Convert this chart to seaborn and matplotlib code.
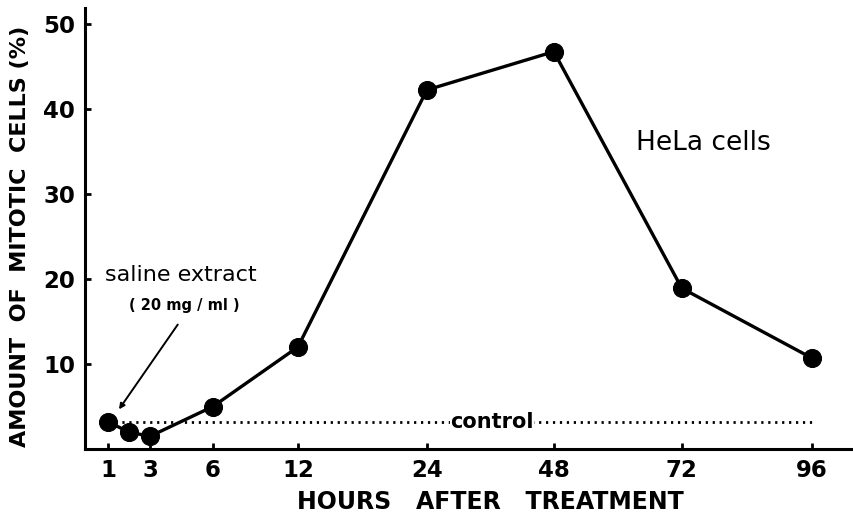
import numpy as np
import seaborn as sns
import matplotlib.pyplot as plt

# data
hours = [1, 2, 3, 6, 12, 24, 48, 72, 96]
mitotic = [3.2, 2.0, 1.5, 5.0, 12.0, 42.2, 46.7, 18.9, 10.7]
control_hours = [1, 96]
control_level = [3.2, 3.2]
tick_hours = [1, 3, 6, 12, 24, 48, 72, 96]
y_ticks = [10, 20, 30, 40, 50]

# the hour axis of the original is hand drawn, not linear
tick_pos = [0, 42, 105, 190, 319, 446, 574, 704]
slope_lo = 21.0
slope_hi = 130.0 / 24


def fwd(h):
    h = np.asarray(h, dtype=float)
    p = np.interp(h, tick_hours, tick_pos)
    p = np.where(h < tick_hours[0], tick_pos[0] + (h - tick_hours[0]) * slope_lo, p)
    p = np.where(h > tick_hours[-1], tick_pos[-1] + (h - tick_hours[-1]) * slope_hi, p)
    return p


def inv(p):
    p = np.asarray(p, dtype=float)
    h = np.interp(p, tick_pos, tick_hours)
    h = np.where(p < tick_pos[0], tick_hours[0] + (p - tick_pos[0]) / slope_lo, h)
    h = np.where(p > tick_pos[-1], tick_hours[-1] + (p - tick_pos[-1]) / slope_hi, h)
    return h


sns.set_style("ticks")
plt.rcParams['font.family'] = ['DejaVu Sans']
plt.rcParams['text.color'] = 'black'
plt.rcParams['axes.labelcolor'] = 'black'
plt.rcParams['xtick.color'] = 'black'
plt.rcParams['ytick.color'] = 'black'

fig = plt.figure(figsize=(8.54, 5.15), dpi=100)
ax = fig.add_axes([0.0995, 0.128, 0.9005, 0.856])
ax.set_xscale('function', functions=(fwd, inv))

sns.lineplot(x=control_hours, y=control_level, color='black', linewidth=2.0,
             linestyle=(0, (0.8, 1.7)), ax=ax)
sns.lineplot(x=hours, y=mitotic, color='black', linewidth=2.4, marker='o',
             markersize=13, markeredgecolor='black', ax=ax)

ax.set_xlim(-0.095, 103.8)
ax.set_ylim(0, 51.8)
ax.set_xticks(tick_hours)
ax.set_xticklabels([str(t) for t in tick_hours])
ax.set_yticks(y_ticks)
ax.minorticks_off()
for lab in ax.get_xticklabels() + ax.get_yticklabels():
    lab.set_fontsize(16.5)
    lab.set_fontweight('bold')
ax.tick_params(direction='in', length=4, width=2, color='black', pad=7)

for s in ['top', 'right']:
    ax.spines[s].set_visible(False)
for s in ['left', 'bottom']:
    ax.spines[s].set_linewidth(2.2)
    ax.spines[s].set_color('black')

ax.set_ylabel('AMOUNT  OF  MITOTIC  CELLS (%)', fontsize=16, fontweight='bold')
ax.yaxis.set_label_coords(-0.071, 0.482)
ax.set_xlabel('HOURS   AFTER   TREATMENT', fontsize=17, fontweight='bold')
ax.xaxis.set_label_coords(0.527, -0.092)

ax.text(36.3, 3.2, 'control', fontsize=15, fontweight='bold', ha='center',
        va='center', bbox=dict(facecolor='white', edgecolor='none', pad=0.5))
ax.text(63.5, 36.0, 'HeLa cells', fontsize=19, ha='left', va='center')
ax.text(0.85, 20.4, 'saline extract', fontsize=16, ha='left', va='center')
ax.text(2.0, 16.9, '( 20 mg / ml )', fontsize=10.5, fontweight='bold',
        ha='left', va='center')
ax.annotate('', xy=(1.45, 4.4), xytext=(4.4, 14.9),
            arrowprops=dict(arrowstyle='-|>', color='black', lw=1.4,
                            mutation_scale=8))

fig.savefig('out.png', dpi=100)
